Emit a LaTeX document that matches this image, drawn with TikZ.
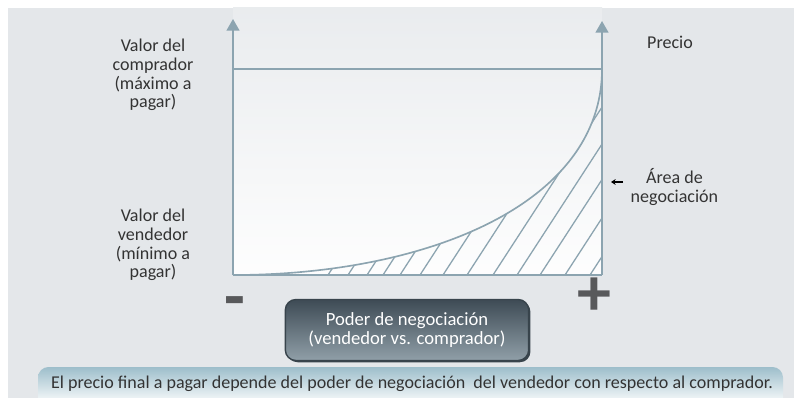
\documentclass[tikz,border=0pt]{standalone}
\usepackage{fontspec}
\setmainfont{Carlito}
\usetikzlibrary{arrows.meta,positioning}
\definecolor{bggray}{HTML}{E4E7EA}
\definecolor{axisblue}{HTML}{8CA4B0}
\definecolor{txtgray}{HTML}{333333}
\definecolor{signgray}{HTML}{58595B}
\definecolor{boxtop}{HTML}{3E4B55}
\definecolor{boxbot}{HTML}{909FA8}
\definecolor{boxedge}{HTML}{38444C}
\definecolor{bandtop}{HTML}{9DBECB}
\definecolor{bandbot}{HTML}{EDF3F5}

\begin{document}
\begin{tikzpicture}[x=0.03cm,y=-0.03cm,
    every node/.style={align=center,text=txtgray,font=\fontsize{15.4}{16}\selectfont},
    axis/.style={draw=axisblue,line width=1.6pt,-{Triangle[width=11pt,length=10pt]}},
    frame/.style={draw=axisblue,line width=1.4pt},
    hatch/.style={draw=axisblue,line width=1.1pt},
    sign/.style={text=signgray,font=\fontsize{58}{58}\bfseries\selectfont,inner sep=0pt},
    powerbox/.style={rounded corners=9pt,top color=boxtop,middle color=boxtop!88!boxbot,bottom color=boxbot,
      draw=boxedge,line width=1.2pt,text=white,minimum width=7.3cm,minimum height=1.83cm,
      font=\fontsize{15.9}{16.5}\selectfont,
      preaction={fill=boxedge,transform canvas={shift={(1.5pt,-1.5pt)}}}},
    notetext/.style={font=\fontsize{15.4}{16}\selectfont}]
  \useasboundingbox (0,0) rectangle (794,398);
  \fill[white] (0,0) rectangle (794,398);
  \fill[bggray] (8,8) rectangle (794,398);
  \shade[top color=bggray!80!white,bottom color=white!94!bggray] (233,8) rectangle (602,275);

  \coordinate (O) at (233,275);
  \coordinate (E) at (602,275);
  \coordinate (Otop) at (233,19);
  \coordinate (Etop) at (602,21);
  \coordinate (buyL) at (233,69);
  \coordinate (buyR) at (602,69);

  \begin{scope}
    \clip (O) .. controls (425,275) and (602,205) .. (buyR) -- (E) -- cycle;
    \foreach \hx in {328,348,367,383,400,420,443,467,493,517,540,565,590}
      \draw[hatch] (\hx,275) -- ++(150,-231);
  \end{scope}
  \draw[frame] (buyL) -- (buyR);
  \draw[frame] (O) -- (E);
  \draw[frame] (O) .. controls (425,275) and (602,205) .. (buyR);
  \draw[axis] (O) -- (Otop);
  \draw[axis] (E) -- (Etop);

  \node (buyer) at (153,75) {Valor del\\comprador\\(máximo a\\pagar)};
  \node (seller) at (153,245) {Valor del\\vendedor\\(mínimo a\\pagar)};
  \node (price) at (670,42) {Precio};

  \coordinate (areaR) at (623,182);
  \coordinate (areaL) at (611,182);
  \draw[black,line width=1pt,-{Stealth[length=4pt,width=5pt]}] (areaR) -- (areaL);
  \node[right=3pt of areaR,yshift=-4pt] (area) {Área de\\negociación};

  \node[sign] (minus) at (235,308) {-};
  \node[sign] (plus) at (594,297) {+};

  \node[powerbox] (power) at (407,330) {Poder de negociación\\(vendedor vs. comprador)};

  \shade[top color=bandtop,bottom color=bandbot,rounded corners=9pt]
    (38,398) -- (38,367) -- (783,367) -- (783,398);
  \node[notetext] (note) at (412,384) {El precio final a pagar depende del poder de negociación~ del vendedor con respecto al comprador.};
\end{tikzpicture}
\end{document}
